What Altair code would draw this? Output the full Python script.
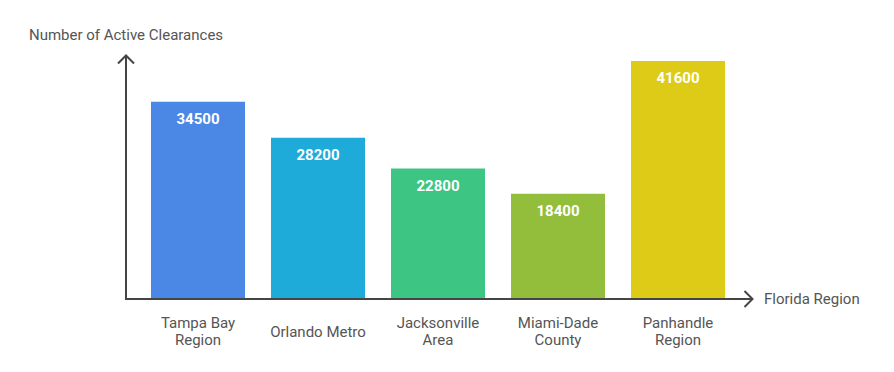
import altair as alt
import pandas as pd

regions = ["Tampa Bay Region", "Orlando Metro", "Jacksonville Area", "Miami-Dade County", "Panhandle Region"]
label_lines = ["Tampa Bay\nRegion", "Orlando Metro", "Jacksonville\nArea", "Miami-Dade\nCounty", "Panhandle\nRegion"]
values = [34500, 28200, 22800, 18400, 41600]
colors = ["#4B87E5", "#1EABDA", "#3DC584", "#93BE3B", "#DECB17"]

x_title = "Florida Region"
y_title = "Number of Active Clearances"

df = pd.DataFrame({"Region": regions, "Label": label_lines, "Value": values})
one = pd.DataFrame({"a": [0]})

W, H = 624, 244
FONT = "Roboto"
AXIS_COLOR = "#454545"
TEXT_COLOR = "#555555"
LH = 17.6

x = alt.X("Region:N", sort=regions, axis=None,
          scale=alt.Scale(paddingInner=26 / 120, paddingOuter=25 / 120))
y_scale = alt.Scale(domain=[0, 42650], nice=False, zero=True)

bars = alt.Chart(df).mark_bar().encode(
    x=x,
    y=alt.Y("Value:Q", scale=y_scale, axis=None),
    color=alt.Color("Region:N", sort=regions,
                    scale=alt.Scale(domain=regions, range=colors), legend=None),
)

vals = alt.Chart(df).mark_text(
    dy=17, baseline="middle", color="white", fontWeight="bold", fontSize=15, font=FONT
).encode(
    x=x,
    y=alt.Y("Value:Q", scale=y_scale),
    text=alt.Text("Value:Q", format="d"),
)

cat_labels = alt.Chart(df).transform_calculate(
    off=f"-(length(split(datum.Label, '\\n')) - 1) * {LH / 2}"
).mark_text(
    baseline="middle", align="center", color=TEXT_COLOR, fontSize=15, font=FONT,
    lineBreak="\n", lineHeight=LH
).encode(
    x=x,
    y=alt.value(276.5),
    yOffset=alt.YOffset("off:Q", scale=None),
    text="Label:N",
)

y_line = alt.Chart(one).mark_rule(color=AXIS_COLOR, strokeWidth=2).encode(
    x=alt.value(0), y=alt.value(1), y2=alt.value(H)
)
x_line = alt.Chart(one).mark_rule(color=AXIS_COLOR, strokeWidth=2).encode(
    x=alt.value(-1), x2=alt.value(626), y=alt.value(H)
)
y_arrow = alt.Chart(one).mark_point(
    shape="M-1,0.5L0,-0.5L1,0.5", filled=False, color=AXIS_COLOR, strokeWidth=2,
    size=256, opacity=1
).encode(x=alt.value(0), y=alt.value(4.5))
x_arrow = alt.Chart(one).mark_point(
    shape="M-0.5,-1L0.5,0L-0.5,1", filled=False, color=AXIS_COLOR, strokeWidth=2,
    size=256, opacity=1
).encode(x=alt.value(622.5), y=alt.value(H))

y_title_mark = alt.Chart(one).mark_text(
    align="center", baseline="middle", color=TEXT_COLOR, fontSize=15, font=FONT
).encode(x=alt.value(0), y=alt.value(-20), text=alt.value(y_title))
x_title_mark = alt.Chart(one).mark_text(
    align="left", baseline="middle", color=TEXT_COLOR, fontSize=15, font=FONT
).encode(x=alt.value(638), y=alt.value(H), text=alt.value(x_title))

chart = alt.layer(
    bars, vals, cat_labels, y_line, x_line, y_arrow, x_arrow, y_title_mark, x_title_mark
).properties(
    width=W, height=H,
    autosize=alt.AutoSizeParams(type="none"),
    padding={"left": 118, "top": 47, "right": 134, "bottom": 63},
    background="white",
).configure_view(strokeWidth=0, stroke="transparent")

chart.save("out.html", embed_options={"renderer": "svg", "actions": False})
